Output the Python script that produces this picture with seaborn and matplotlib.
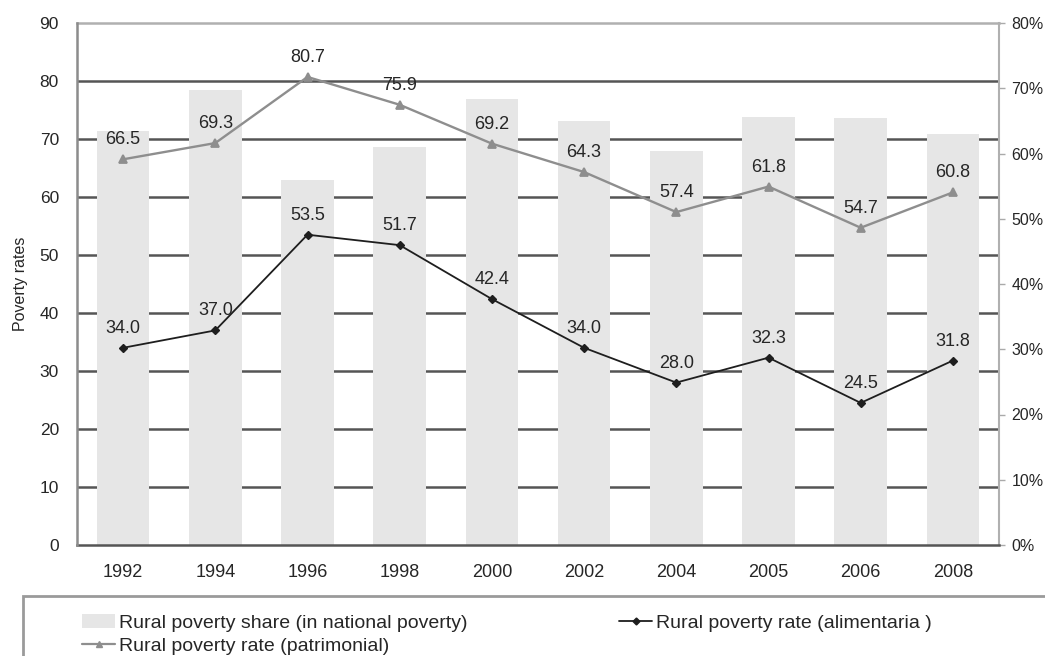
import matplotlib
matplotlib.use("Agg")
import matplotlib.pyplot as plt
import seaborn as sns
from matplotlib.patches import Patch, Rectangle
from matplotlib.lines import Line2D
from matplotlib.ticker import PercentFormatter
from matplotlib.transforms import blended_transform_factory

years = ["1992", "1994", "1996", "1998", "2000", "2002", "2004", "2005", "2006", "2008"]
rate_alimentaria = [34.0, 37.0, 53.5, 51.7, 42.4, 34.0, 28.0, 32.3, 24.5, 31.8]
rate_patrimonial = [66.5, 69.3, 80.7, 75.9, 69.2, 64.3, 57.4, 61.8, 54.7, 60.8]
rural_share = [63.4, 69.7, 55.9, 61.0, 68.3, 65.0, 60.4, 65.6, 65.4, 63.0]
left_ticks = [0, 10, 20, 30, 40, 50, 60, 70, 80, 90]
right_ticks = [0, 10, 20, 30, 40, 50, 60, 70, 80]
grid_levels = [10, 20, 30, 40, 50, 60, 70, 80]

lab_share = "Rural poverty share (in national poverty)"
lab_alim = "Rural poverty rate (alimentaria )"
lab_patr = "Rural poverty rate (patrimonial)"

sns.set_theme(style="white")
plt.rcParams["font.family"] = ["Liberation Sans", "DejaVu Sans"]

BAR = "#e6e6e6"
ALIM = "#1e1e1e"
PATR = "#8e8e8e"
GRID = "#555555"
TXT = "#262626"

fig = plt.figure(figsize=(10.45, 6.56), dpi=100)
ax_bar = fig.add_axes([77 / 1045, 1 - 545 / 656, (999 - 77) / 1045, (545 - 23) / 656])
ax_line = ax_bar.twinx()

# bars on right (percent) scale
sns.barplot(x=years, y=rural_share, order=years, ax=ax_bar, color=BAR,
            saturation=1, width=0.57, edgecolor="none", zorder=1)
ax_bar.set_ylim(0, 80)
ax_bar.set_yticks(right_ticks)
ax_bar.yaxis.set_major_formatter(PercentFormatter(decimals=0))
ax_bar.yaxis.tick_right()
ax_bar.yaxis.set_label_position("right")

# lines on left scale
sns.pointplot(x=years, y=rate_patrimonial, order=years, ax=ax_line, color=PATR,
              markers="^", linestyles="-", markersize=6, linewidth=1.7, errorbar=None)
sns.pointplot(x=years, y=rate_alimentaria, order=years, ax=ax_line, color=ALIM,
              markers="D", linestyles="-", markersize=4, linewidth=1.3, errorbar=None)
ax_line.set_ylim(0, 90)
ax_line.set_yticks(left_ticks)
ax_line.yaxis.tick_left()
ax_line.yaxis.set_label_position("left")
ax_line.set_ylabel("Poverty rates", fontsize=11.5, color=TXT, labelpad=8)

# gridlines at left-scale levels, behind bars
trans = blended_transform_factory(ax_bar.transAxes, ax_line.transData)
ax_bar.hlines(grid_levels, 0, 1, transform=trans, colors=GRID, linewidth=1.8, zorder=0.5)

# data labels
for series in (rate_patrimonial, rate_alimentaria):
    for i, v in enumerate(series):
        ax_line.annotate(f"{v:.1f}", (i, v), xytext=(0, 14), textcoords="offset points",
                         ha="center", va="center", fontsize=13, color=TXT)

ax_bar.set_xlim(-0.5, len(years) - 0.5)
ax_bar.set_xlabel("")
ax_bar.set_ylabel("")
ax_bar.tick_params(axis="x", length=0, pad=14, labelsize=13, labelcolor=TXT)
ax_bar.tick_params(axis="y", length=4, width=1, color="#aaaaaa", pad=5,
                   labelsize=11.5, labelcolor=TXT, direction="out")
ax_line.tick_params(axis="y", length=0, pad=13, labelsize=12.5, labelcolor=TXT)
ax_line.set_xlabel("")
ax_line.tick_params(axis="x", length=0, labelbottom=False, labeltop=False)
ax_bar.set_xticks(range(len(years)))
ax_bar.set_xticklabels(years)

for s in ax_line.spines.values():
    s.set_visible(False)
ax_line.spines["left"].set_visible(True)
ax_line.spines["left"].set_color("#8c8c8c")
ax_line.spines["left"].set_linewidth(1.8)
ax_bar.spines["left"].set_visible(False)
ax_bar.spines["top"].set_color("#b0b0b0")
ax_bar.spines["top"].set_linewidth(1.8)
ax_bar.spines["right"].set_color("#b0b0b0")
ax_bar.spines["right"].set_linewidth(1.5)
ax_bar.spines["bottom"].set_color("#555555")
ax_bar.spines["bottom"].set_linewidth(1.8)
ax_bar.grid(False)
ax_line.grid(False)

# legend
handles = [
    Patch(facecolor=BAR, edgecolor="none", label=lab_share),
    Line2D([], [], color=PATR, marker="^", markersize=5, linewidth=1.6, label=lab_patr),
    Line2D([], [], color=ALIM, marker="D", markersize=3.5, linewidth=1.3, label=lab_alim),
]
leg = fig.legend(handles=handles, ncol=2, loc="upper left",
                 bbox_to_anchor=(82 / 1045, 1 - 614 / 656), frameon=False,
                 fontsize=14, handlelength=1.7, handletextpad=0.2,
                 columnspacing=7.8, labelspacing=0.3, borderpad=0, borderaxespad=0,
                 labelcolor=TXT)
fig.patches.append(Rectangle((23 / 1045, 1 - 700 / 656), 1.1, (700 - 596) / 656,
                             transform=fig.transFigure, fill=False,
                             edgecolor="#9a9a9a", linewidth=2))

fig.savefig("out.png", dpi=100)
